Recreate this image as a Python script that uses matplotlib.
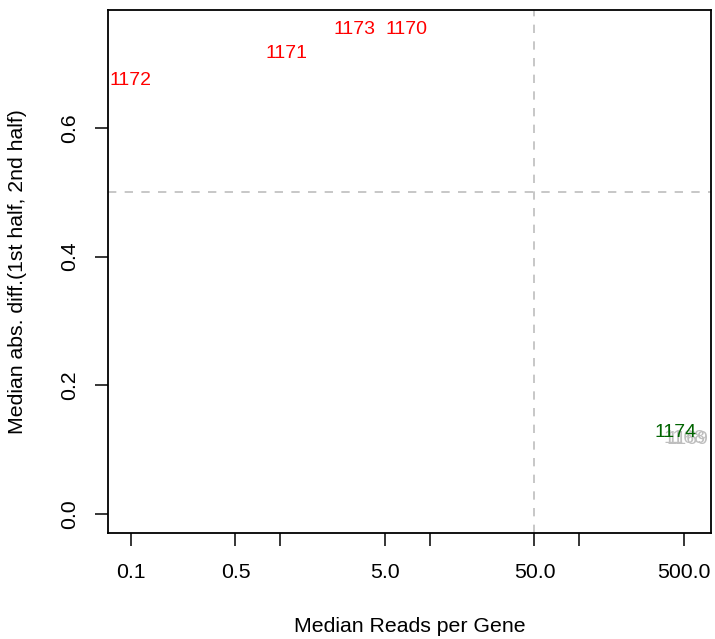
import matplotlib
matplotlib.use('Agg')
import matplotlib.pyplot as plt
import numpy as np

plt.rcParams['font.family'] = ['Liberation Sans', 'DejaVu Sans']

# data -----------------------------------------------------------------------
ids = ['1172', '1171', '1173', '1170', '1168', '1169', '1174']
reads = [0.1, 1.09, 3.13, 7.0, 505.0, 530.0, 441.0]
mad = [0.674, 0.715, 0.752, 0.752, 0.117, 0.116, 0.126]
cols = ['#FF0000', '#FF0000', '#FF0000', '#FF0000', '#BEBEBE', '#BEBEBE', '#006400']

xticks = [0.1, 0.5, 1, 5, 10, 50, 100, 500]
xticklabels = ['0.1', '0.5', '', '5.0', '', '50.0', '', '500.0']
yticks = [0.0, 0.2, 0.4, 0.6]
yticklabels = ['0.0', '0.2', '0.4', '0.6']

cut_reads = 50
cut_mad = 0.5

# figure ---------------------------------------------------------------------
fig = plt.figure(figsize=(7.15, 6.39), dpi=100)
ax = fig.add_axes([108 / 715, 1 - 533 / 639, (711 - 108) / 715, (533 - 10) / 639])
ax.set_xscale('log')
ax.set_xlim(0.0702, 759)
ax.set_ylim(-0.0295, 0.783)

ax.axvline(cut_reads, color='#BEBEBE', lw=1.2, linestyle=(0, (5, 5)))
ax.axhline(cut_mad, color='#BEBEBE', lw=1.2, linestyle=(0, (5, 5)))

for lab, x, y, c in zip(ids, reads, mad, cols):
    ax.text(x, y, lab, color=c, fontsize=14, ha='center', va='center')

ax.set_xticks(xticks)
ax.set_xticklabels(xticklabels)
ax.xaxis.set_minor_locator(matplotlib.ticker.NullLocator())
ax.set_yticks(yticks)
ax.set_yticklabels(yticklabels, rotation=90, va='center')

ax.tick_params(axis='both', length=9.5, width=1.1, labelsize=15.3, color='black')
ax.tick_params(axis='x', pad=12)
ax.tick_params(axis='y', pad=11)
for sp in ax.spines.values():
    sp.set_linewidth(1.3)

ax.set_xlabel('Median Reads per Gene', fontsize=15.3)
ax.xaxis.set_label_coords(0.5, (533 - 627) / 523)
ax.xaxis.label.set_va('center')
ax.set_ylabel('Median abs. diff.(1st half, 2nd half)', fontsize=15.3)
ax.yaxis.set_label_coords((18 - 108) / 603, 0.5)
ax.yaxis.label.set_va('center')

fig.savefig('out.png', dpi=100)
